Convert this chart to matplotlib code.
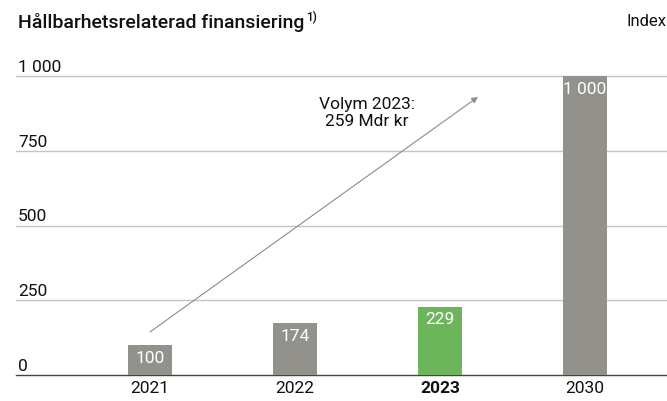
import matplotlib.pyplot as plt
from matplotlib.transforms import offset_copy

years = ['2021', '2022', '2023', '2030']
index_values = [100, 174, 229, 1000]
bar_colors = ['#93918c', '#93918c', '#6db55b', '#93918c']
y_ticks = [0, 250, 500, 750, 1000]
y_tick_labels = ['0', '250', '500', '750', '1 000']

plt.rcParams['font.family'] = ['Roboto', 'DejaVu Sans']
fs = 12.5

fig = plt.figure(figsize=(6.67, 4.01), dpi=100)
ax = fig.add_axes([16 / 667, 26 / 401, 651 / 667, 299 / 401])

x = range(len(years))
ax.bar(x, index_values, width=0.30, color=bar_colors, zorder=2)

for xi, v in zip(x, index_values):
    ax.annotate(f'{v:,}'.replace(',', ' '), (xi, v), xytext=(0, -4),
                textcoords='offset points', ha='center', va='top',
                color='white', fontsize=fs, zorder=3)

ax.set_xlim(-0.924, 3.566)
ax.set_ylim(0, 1000)

# horizontal grid with labels sitting on top of each line
for t, lab in zip(y_ticks, y_tick_labels):
    ax.axhline(t, color='#444444' if t == 0 else '#c4c4c4',
               lw=1.0, zorder=1, clip_on=False)
    ax.annotate(lab, (-0.91, t), xytext=(0, 3), textcoords='offset points',
                ha='left', va='baseline', fontsize=fs, color='#111111')

for s in ax.spines.values():
    s.set_visible(False)
ax.set_yticks([])
ax.set_xticks(list(x))
ax.set_xticklabels(years, fontsize=fs, color='#111111')
ax.tick_params(axis='x', length=0, pad=4)
ax.get_xticklabels()[2].set_fontweight('bold')

ax.annotate('', xy=(2.262, 930), xytext=(0.0, 144),
            arrowprops=dict(arrowstyle='-|>', color='#8c8c8c', lw=0.8,
                            mutation_scale=9, shrinkA=0, shrinkB=0))
ax.text(1.497, 876, 'Volym 2023:\n259 Mdr kr', ha='center', va='center',
        fontsize=fs, color='#111111', linespacing=1.1)

title = fig.text(18 / 667, 1 - 22 / 401, 'Hållbarhetsrelaterad finansiering',
                 ha='left', va='center', fontsize=14, fontweight='medium',
                 color='#111111')
renderer = fig.canvas.get_renderer()
bb = title.get_window_extent(renderer).transformed(fig.transFigure.inverted())
fig.text(bb.x1, 1 - 17 / 401, '1)',
         transform=offset_copy(fig.transFigure, fig=fig, x=1, units='points'),
         ha='left', va='center', fontsize=8.5, fontweight='medium',
         color='#111111')
fig.text(626 / 667, 1 - 22 / 401, 'Index', ha='left', va='center',
         fontsize=12, color='#111111')

fig.savefig('out.png', dpi=100)
